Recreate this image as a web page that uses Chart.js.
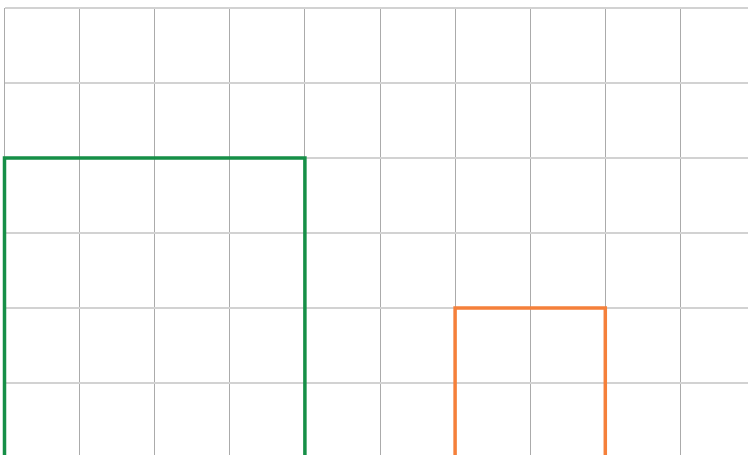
<!DOCTYPE html>
<html>
<head>
<meta charset="utf-8">
<script src="https://cdn.jsdelivr.net/npm/chart.js@4/dist/chart.umd.min.js"></script>
<style>
  html, body { margin: 0; padding: 0; overflow: hidden; background: #ffffff; width: 748px; height: 455px; }
  canvas { display: block; }
</style>
</head>
<body>
<canvas id="c" width="760" height="470"></canvas>
<script>
// Series values (x, y pairs of each outline)
const greenX = [0, 0, 4, 4];
const greenY = [0, 4, 4, 0];
const orangeX = [6, 6, 8, 8];
const orangeY = [0, 2, 2, 0];
// Axis ranges / tick values
const xTicks = [0, 1, 2, 3, 4, 5, 6, 7, 8, 9, 10];
const yTicks = [0, 1, 2, 3, 4, 5, 6];

const toPoints = (xs, ys) => xs.map((x, i) => ({ x: x, y: ys[i] }));

new Chart(document.getElementById('c'), {
  type: 'line',
  data: {
    datasets: [
      {
        label: 'Green',
        data: toPoints(greenX, greenY),
        borderColor: '#168f47',
        borderWidth: 3.5,
        pointRadius: 0,
        fill: false,
        tension: 0,
        clip: false
      },
      {
        label: 'Orange',
        data: toPoints(orangeX, orangeY),
        borderColor: '#f5803a',
        borderWidth: 3.5,
        pointRadius: 0,
        fill: false,
        tension: 0,
        clip: false
      }
    ]
  },
  options: {
    responsive: false,
    animation: false,
    layout: { padding: { left: 4.5, top: 8, right: 4.5, bottom: 12 } },
    plugins: { legend: { display: false }, tooltip: { enabled: false } },
    scales: {
      x: {
        type: 'linear',
        min: xTicks[0],
        max: xTicks[xTicks.length - 1],
        afterBuildTicks: (s) => { s.ticks = xTicks.map(v => ({ value: v })); },
        ticks: { display: false },
        border: { display: false },
        grid: { color: '#ababab', lineWidth: 1, drawTicks: false }
      },
      y: {
        type: 'linear',
        min: yTicks[0],
        max: yTicks[yTicks.length - 1],
        afterBuildTicks: (s) => { s.ticks = yTicks.map(v => ({ value: v })); },
        ticks: { display: false },
        border: { display: false },
        grid: { color: '#d2d2d2', lineWidth: 2, drawTicks: false }
      }
    }
  }
});
</script>
</body>
</html>
